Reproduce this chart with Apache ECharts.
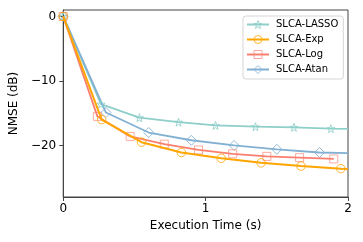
<!DOCTYPE html>
<html><head><meta charset="utf-8">
<script src="https://cdn.jsdelivr.net/npm/echarts@6/dist/echarts.min.js"></script>
<style>html,body{margin:0;padding:0;background:#fff}#c{width:363px;height:242px}</style>
</head><body><div id="c"></div>
<script>
const seriesNames = ['SLCA-LASSO', 'SLCA-Exp', 'SLCA-Log', 'SLCA-Atan'];
// [time (s), NMSE (dB)]; marked points and curve ends
const lassoData = [[0,0],[0.265,-13.6],[0.535,-15.7],[0.81,-16.4],[1.07,-16.9],[1.35,-17.1],[1.62,-17.2],[1.88,-17.4],[2.0,-17.45]];
const expData   = [[0,0],[0.27,-16.0],[0.55,-19.5],[0.83,-21.1],[1.11,-22.0],[1.39,-22.7],[1.67,-23.2],[1.95,-23.6],[2.0,-23.65]];
const logData   = [[0,0],[0.24,-15.5],[0.47,-18.6],[0.71,-19.8],[0.95,-20.7],[1.19,-21.3],[1.43,-21.7],[1.66,-21.9],[1.90,-22.1]];
const atanData  = [[0,0],[0.30,-14.9],[0.60,-18.0],[0.90,-19.2],[1.20,-20.0],[1.50,-20.6],[1.80,-21.1],[2.0,-21.2]];
// which points carry a marker
const lassoMarked = [1,1,1,1,1,1,1,1,0];
const expMarked   = [1,1,1,1,1,1,1,1,0];
const logMarked   = [1,1,1,1,1,1,1,1,1];
const atanMarked  = [1,1,1,1,1,1,1,0];
const xTicks = [0, 1, 2];
const yTicks = [0, -10, -20];

const colors = ['#8ECFC9', '#FFA500', '#FA7F6F', '#82B0D2'];
const edge = ['rgba(142,207,201,0.85)', 'rgba(255,165,0,0.8)', 'rgba(250,127,111,0.65)', 'rgba(130,176,210,0.85)'];
const star = 'path://M0,-10L2.35,-3.24L9.51,-3.09L3.8,1.24L5.88,8.09L0,4L-5.88,8.09L-3.8,1.24L-9.51,-3.09L-2.35,-3.24Z';
const symbols = [star, 'circle', 'rect', 'diamond'];
const sizes = [8, 8.5, 8, 10];
const datas = [lassoData, expData, logData, atanData];
const marks = [lassoMarked, expMarked, logMarked, atanMarked];
const hollow = i => ({color: 'none', borderColor: edge[i], borderWidth: 1});

function mk(i){
  return {
    name: seriesNames[i], type: 'line', smooth: false,
    symbol: symbols[i], symbolSize: sizes[i], showAllSymbol: true,
    lineStyle: {color: colors[i], width: i===1 ? 2 : 1.8},
    itemStyle: hollow(i),
    emphasis: {disabled: true},
    data: datas[i].map((p, k) => marks[i][k] ? {value: p} : {value: p, symbol: 'none'}),
    z: [2,4,3,2][i]
  };
}

const chart = echarts.init(document.getElementById('c'), null, {renderer: 'canvas'});
const font = 'DejaVu Sans';
chart.setOption({
  animation: false,
  backgroundColor: '#fff',
  textStyle: {fontFamily: font},
  grid: {left: 60, right: 15, top: 10, bottom: 45, show: true, borderColor: '#444', borderWidth: 1, backgroundColor: 'transparent'},
  legend: {
    orient: 'vertical', left: 243, top: 16,
    padding: [2, 5, 3, 3], itemGap: 2, itemWidth: 22, itemHeight: 10,
    backgroundColor: 'rgba(255,255,255,0.8)', borderColor: '#d5d5d5', borderWidth: 1, borderRadius: 3,
    itemStyle: {color: 'none', borderWidth: 1},
    textStyle: {fontFamily: font, fontSize: 10, lineHeight: 11, color: '#000', padding: [0,0,0,2]},
    data: seriesNames.map((n, i) => ({name: n, itemStyle: hollow(i)}))
  },
  xAxis: {
    type: 'value', min: 0, max: 2, interval: 1,
    name: 'Execution Time (s)', nameLocation: 'middle', nameGap: 19,
    nameTextStyle: {fontFamily: font, fontSize: 12, color: '#000', verticalAlign: 'top'},
    axisLine: {show: true, onZero: false, lineStyle: {color: '#444', width: 1}},
    axisTick: {show: true, length: 4, lineStyle: {color: '#444'}, customValues: xTicks},
    axisLabel: {fontFamily: font, fontSize: 12, color: '#000', margin: 6, customValues: xTicks},
    splitLine: {show: false}
  },
  yAxis: {
    type: 'value', min: -28, max: 1,
    name: 'NMSE (dB)', nameLocation: 'middle', nameGap: 38,
    nameTextStyle: {fontFamily: font, fontSize: 12, color: '#000'},
    axisLine: {show: true, onZero: false, lineStyle: {color: '#444', width: 1}},
    axisTick: {show: true, length: 4, lineStyle: {color: '#444'}, customValues: yTicks},
    axisLabel: {fontFamily: font, fontSize: 12, color: '#000', margin: 7, customValues: yTicks,
      formatter: v => (v < 0 ? '\u2212' + Math.abs(v) : String(v))},
    splitLine: {show: false}
  },
  series: [mk(0), mk(1), mk(2), mk(3)]
});
</script></body></html>
